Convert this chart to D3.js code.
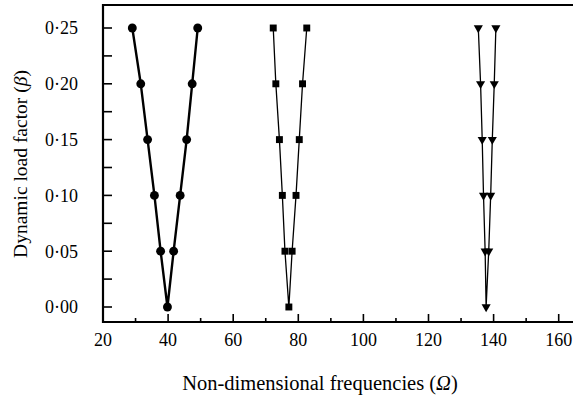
<!DOCTYPE html>
<html>
<head>
<meta charset="utf-8">
<script src="https://cdn.jsdelivr.net/npm/d3@7"></script>
<style>
  html, body { margin: 0; padding: 0; background: #fff; }
  svg { display: block; }
</style>
</head>
<body>
<svg id="chart" width="573" height="397" font-family="Liberation Serif, DejaVu Serif, serif"></svg>
<script>
// Dynamic load factor levels (shared by every mode)
const beta = [0.25, 0.20, 0.15, 0.10, 0.05, 0.00];

// Mode 1: lower / upper boundary frequencies
const mode1Lower = [29.0, 31.6, 33.7, 35.8, 37.7, 39.8];
const mode1Upper = [49.1, 47.4, 45.7, 43.7, 41.7, 39.8];

// Mode 2
const mode2Lower = [72.3, 73.1, 74.2, 75.1, 75.9, 77.1];
const mode2Upper = [82.6, 81.3, 80.3, 79.3, 78.1, 77.1];

// Mode 3
const mode3Lower = [135.3, 136.0, 136.5, 136.9, 137.4, 137.7];
const mode3Upper = [140.7, 140.2, 139.6, 139.1, 138.5, 137.7];

const xTicks = [20, 40, 60, 80, 100, 120, 140, 160];
const yTicks = [0.00, 0.05, 0.10, 0.15, 0.20, 0.25];
const yTickLabels = ["0·00", "0·05", "0·10", "0·15", "0·20", "0·25"];

const svg = d3.select("#chart");
const plotLeft = 103, plotRight = 575, plotTop = 5, plotBottom = 322;
const tickFont = 18;
const serif = "Liberation Serif, DejaVu Serif, serif";

const x = d3.scaleLinear().domain([20, 160]).range([plotLeft, 558.7]);
const y = d3.scaleLinear().domain([0, 0.25]).range([307, 28]);

// Build a V-shaped boundary curve: lower branch downwards, then upper branch upwards
function vCurve(lower, upper) {
  const pts = beta.map((b, i) => ({ f: lower[i], b }));
  for (let i = beta.length - 2; i >= 0; i--) pts.push({ f: upper[i], b: beta[i] });
  return pts;
}
function markerPoints(lower, upper) {
  const pts = beta.map((b, i) => ({ f: lower[i], b }));
  beta.forEach((b, i) => { if (upper[i] !== lower[i]) pts.push({ f: upper[i], b }); });
  return pts;
}

const line = d3.line().x(d => x(d.f)).y(d => y(d.b));

const series = [
  { lower: mode1Lower, upper: mode1Upper, width: 2.4, symbol: d3.symbolCircle, size: 62, rot: 0 },
  { lower: mode2Lower, upper: mode2Upper, width: 1.3, symbol: d3.symbolSquare, size: 48, rot: 0 },
  { lower: mode3Lower, upper: mode3Upper, width: 1.3, symbol: d3.symbolTriangle, size: 36, rot: 180 }
];

const plot = svg.append("g");
series.forEach(s => {
  plot.append("path")
    .datum(vCurve(s.lower, s.upper))
    .attr("d", line)
    .attr("fill", "none")
    .attr("stroke", "#000")
    .attr("stroke-width", s.width)
    .attr("stroke-linejoin", "round");
  plot.selectAll(null)
    .data(markerPoints(s.lower, s.upper))
    .join("path")
    .attr("d", d3.symbol().type(s.symbol).size(s.size))
    .attr("transform", d => `translate(${x(d.f)},${y(d.b)}) rotate(${s.rot})`)
    .attr("fill", "#000");
});

// Bottom axis with inward ticks
const gx = svg.append("g").attr("transform", `translate(0,${plotBottom})`);
gx.selectAll("line")
  .data(d3.range(20, 161, 10))
  .join("line")
  .attr("x1", d => x(d)).attr("x2", d => x(d))
  .attr("y1", 0).attr("y2", d => (d % 20 === 0 ? -8 : -4))
  .attr("stroke", "#000").attr("stroke-width", 1.6);
gx.selectAll("text")
  .data(xTicks)
  .join("text")
  .attr("x", d => x(d))
  .attr("y", 24)
  .attr("text-anchor", "middle")
  .attr("font-family", serif)
  .attr("font-size", tickFont)
  .text(d => d);

// Left axis with inward ticks
const gy = svg.append("g").attr("transform", `translate(${plotLeft},0)`);
gy.selectAll("line")
  .data(d3.range(0, 11).map(i => i * 0.025))
  .join("line")
  .attr("x1", 0).attr("x2", 9)
  .attr("y1", d => y(d)).attr("y2", d => y(d))
  .attr("stroke", "#000").attr("stroke-width", 1.6);
gy.selectAll("text")
  .data(yTicks)
  .join("text")
  .attr("x", -25)
  .attr("y", d => y(d))
  .attr("dy", "0.35em")
  .attr("text-anchor", "end")
  .attr("font-family", serif)
  .attr("font-size", tickFont)
  .text((d, i) => yTickLabels[i]);

// Frame (left, top, bottom)
svg.append("path")
  .attr("d", `M${plotRight},${plotTop}H${plotLeft}V${plotBottom}H${plotRight}`)
  .attr("fill", "none")
  .attr("stroke", "#000")
  .attr("stroke-width", 2.2);

// Axis titles
const xt = svg.append("text")
  .attr("x", 320).attr("y", 390)
  .attr("text-anchor", "middle")
  .attr("font-family", serif)
  .attr("font-size", 20.5);
xt.append("tspan").text("Non-dimensional frequencies (");
xt.append("tspan").attr("font-style", "italic").text("Ω");
xt.append("tspan").text(")");

const yt = svg.append("text")
  .attr("transform", "translate(27,164) rotate(-90)")
  .attr("text-anchor", "middle")
  .attr("font-family", serif)
  .attr("font-size", 19.5);
yt.append("tspan").text("Dynamic load factor (");
yt.append("tspan").attr("font-style", "italic").text("β");
yt.append("tspan").text(")");
</script>
</body>
</html>
